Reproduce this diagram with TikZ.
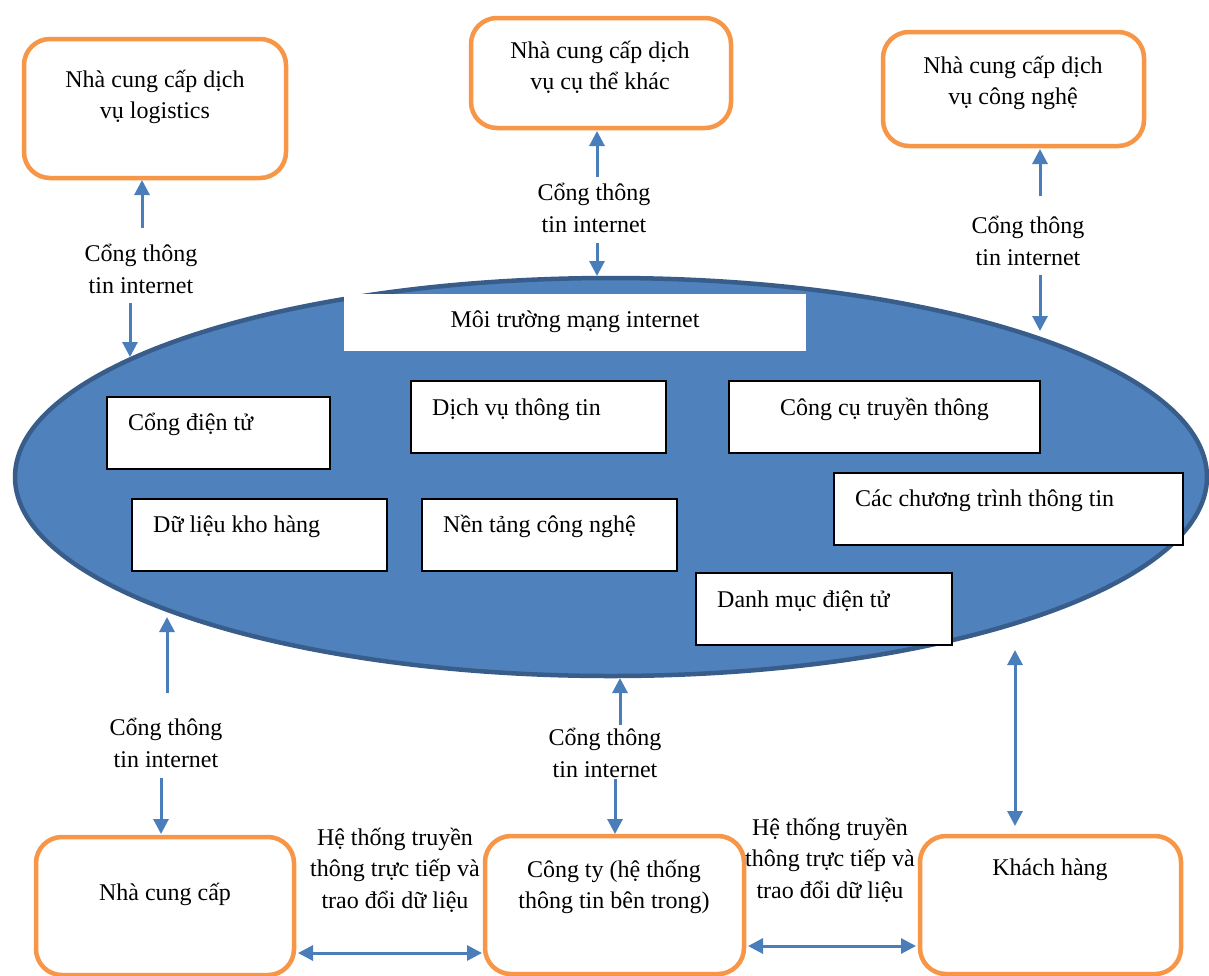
\documentclass[tikz,border=0pt]{standalone}
\usepackage{fontspec}
\setmainfont{Liberation Serif}
\usetikzlibrary{arrows.meta,shapes.geometric}
\definecolor{ofill}{HTML}{F79646}
\definecolor{efill}{HTML}{4F81BD}
\definecolor{eline}{HTML}{385D8A}
\definecolor{aline}{HTML}{4A7EBB}
\begin{document}
\begin{tikzpicture}[x=1pt,y=-1pt,
  every node/.style={font=\fontsize{24}{31.5}\selectfont},
  obox/.style={draw=ofill, line width=4.5pt, rounded corners=26pt, fill=white, inner sep=0pt},
  ibox/.style={draw=black, line width=1.8pt, fill=white, inner sep=0pt},
  btext/.style={align=center, inner sep=0pt},
  itext/.style={anchor=base west, inner sep=0pt},
  arr/.style={draw=aline, line width=3pt, -{Triangle[width=15pt,length=15pt]}},
  darr/.style={draw=aline, line width=3pt, {Triangle[width=15pt,length=15pt]}-{Triangle[width=15pt,length=15pt]}}]
\useasboundingbox (0,0) rectangle (1209,975);

% central network ellipse
\node[draw=eline, fill=efill, line width=4.5pt, ellipse, minimum width=1192pt, minimum height=398pt, inner sep=0pt] (net) at (611,477) {};
\node[fill=white, minimum width=462pt, minimum height=57pt, inner sep=0pt] (title) at (575,322.5) {};
\node[btext] (titletxt) at (575,322) {Môi trường mạng internet};

% inner service boxes
\node[ibox, minimum width=223pt, minimum height=72pt] (cong) at (218.5,433) {};
\node[itext] (congtxt) at (128,430) {Cổng điện tử};
\node[ibox, minimum width=255pt, minimum height=72pt] (dichvu) at (538.5,417) {};
\node[itext] (dichvutxt) at (432,415) {Dịch vụ thông tin};
\node[ibox, minimum width=311pt, minimum height=72pt] (congcu) at (884.5,417) {};
\node[itext] (congcutxt) at (780,415) {Công cụ truyền thông};
\node[ibox, minimum width=349pt, minimum height=72pt] (chuongtrinh) at (1008.5,509) {};
\node[itext] (chuongtrinhtxt) at (855,506) {Các chương trình thông tin};
\node[ibox, minimum width=255pt, minimum height=72pt] (dulieu) at (259.5,535) {};
\node[itext] (dulieutxt) at (153,532) {Dữ liệu kho hàng};
\node[ibox, minimum width=255pt, minimum height=72pt] (nentang) at (549.5,535) {};
\node[itext] (nentangtxt) at (443,532) {Nền tảng công nghệ};
\node[ibox, minimum width=256pt, minimum height=72pt] (danhmuc) at (824,609) {};
\node[itext] (danhmuctxt) at (717,607) {Danh mục điện tử};

% outer partner boxes
\node[obox, minimum width=262pt, minimum height=139pt] (logi) at (155,108.5) {};
\node[btext] (logitxt) at (155,97) {Nhà cung cấp dịch\\vụ logistics};
\node[obox, minimum width=260pt, minimum height=110pt] (khac) at (601,73) {};
\node[btext] (khactxt) at (600,67.5) {Nhà cung cấp dịch\\vụ cụ thể khác};
\node[obox, minimum width=261pt, minimum height=114pt] (cnghe) at (1013.5,89) {};
\node[btext] (cnghetxt) at (1013,83) {Nhà cung cấp dịch\\vụ công nghệ};
\node[obox, minimum width=258pt, minimum height=138pt] (ncc) at (165,906) {};
\node[btext] (ncctxt) at (165,894) {Nhà cung cấp};
\node[obox, minimum width=259pt, minimum height=138pt] (cty) at (614.5,905) {};
\node[btext] (ctytxt) at (614,887) {Công ty (hệ thống\\thông tin bên trong)};
\node[obox, minimum width=261pt, minimum height=138pt] (khach) at (1050.5,905) {};
\node[btext] (khachtxt) at (1050,870) {Khách hàng};

% gateway labels
\node[btext] (g1) at (141,269) {Cổng thông\\tin internet};
\node[btext] (g2) at (594,208) {Cổng thông\\tin internet};
\node[btext] (g3) at (1028,241) {Cổng thông\\tin internet};
\node[btext] (g4) at (166,743) {Cổng thông\\tin internet};
\node[btext] (g5) at (605,753) {Cổng thông\\tin internet};
\node[btext] (h1) at (395,870) {Hệ thống truyền\\thông trực tiếp và\\trao đổi dữ liệu};
\node[btext] (h2) at (830,860) {Hệ thống truyền\\thông trực tiếp và\\trao đổi dữ liệu};

% arrow end points
\coordinate (a1s) at (142,228); \coordinate (a1e) at (142,180);
\coordinate (a2s) at (130,303); \coordinate (a2e) at (130,357);
\coordinate (a3s) at (597,177); \coordinate (a3e) at (597,131);
\coordinate (a4s) at (597,243); \coordinate (a4e) at (597,276);
\coordinate (a5s) at (1040,196); \coordinate (a5e) at (1040,149);
\coordinate (a6s) at (1040,275); \coordinate (a6e) at (1040,331);
\coordinate (a7s) at (167,693); \coordinate (a7e) at (167,617);
\coordinate (a8s) at (161,778); \coordinate (a8e) at (161,834);
\coordinate (a9s) at (620,725); \coordinate (a9e) at (620,678);
\coordinate (a10s) at (615,779); \coordinate (a10e) at (615,834);
\coordinate (a11s) at (1015,650); \coordinate (a11e) at (1015,826);
\coordinate (a12s) at (298,953); \coordinate (a12e) at (482,953);
\coordinate (a13s) at (748,946); \coordinate (a13e) at (916,946);

% connectors
\draw[arr] (a1s) -- (a1e);
\draw[arr] (a2s) -- (a2e);
\draw[arr] (a3s) -- (a3e);
\draw[arr] (a4s) -- (a4e);
\draw[arr] (a5s) -- (a5e);
\draw[arr] (a6s) -- (a6e);
\draw[arr] (a7s) -- (a7e);
\draw[arr] (a8s) -- (a8e);
\draw[arr] (a9s) -- (a9e);
\draw[arr] (a10s) -- (a10e);
\draw[darr] (a11s) -- (a11e);
\draw[darr] (a12s) -- (a12e);
\draw[darr] (a13s) -- (a13e);
\end{tikzpicture}
\end{document}
